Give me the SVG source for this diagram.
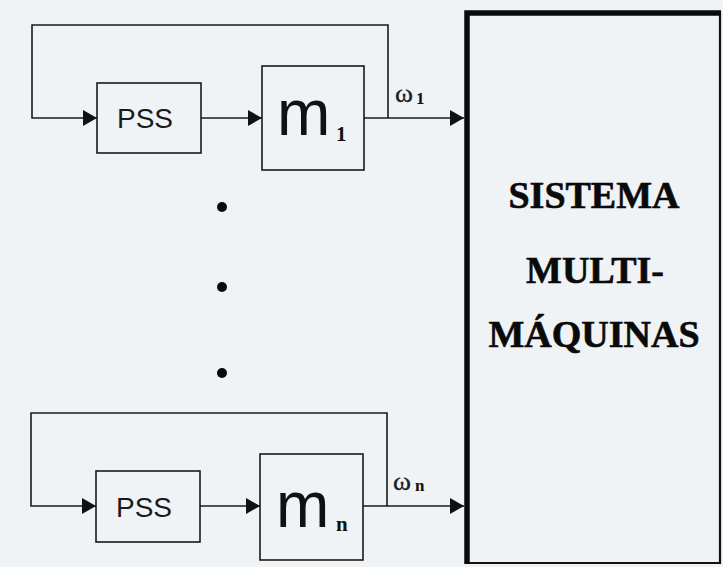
<svg xmlns="http://www.w3.org/2000/svg" width="723" height="567" viewBox="0 0 723 567">
  <defs>
    <marker id="arrow" viewBox="0 0 14 16" refX="14" refY="8" markerWidth="14" markerHeight="16" markerUnits="userSpaceOnUse" orient="auto">
      <path d="M0,0 L14,8 L0,16 Z" fill="#111"/>
    </marker>
  </defs>
  <style>
    .box { fill: none; stroke: #1a1a1a; stroke-width: 1.6; }
    .wire { fill: none; stroke: #1a1a1a; stroke-width: 1.6; }
    .pss { font-family: "Liberation Sans", Arial, sans-serif; font-size: 28px; fill: #1a1a1a; text-anchor: middle; }
    .m { font-family: "Liberation Sans", Arial, sans-serif; font-size: 64px; fill: #111; }
    .sub { font-family: "Liberation Serif", "Times New Roman", serif; font-weight: bold; font-size: 21px; fill: #111; }
    .omega { font-family: "Liberation Serif", "Times New Roman", serif; font-size: 25px; fill: #1a1a2a; stroke: #1a1a2a; stroke-width: 0.3; }
    .osub { font-family: "Liberation Serif", "Times New Roman", serif; font-weight: bold; font-size: 17px; fill: #111; }
    .big { font-family: "Liberation Serif", "Times New Roman", serif; font-weight: bold; font-size: 38px; fill: #0a0a0a; text-anchor: middle; stroke: #0a0a0a; stroke-width: 0.6; }
  </style>

  <rect x="0" y="0" width="723" height="567" fill="#eff3f5"/>

  <!-- connectors -->
  <g id="connectors">
    <!-- machine 1 loop -->
    <path class="wire" d="M388,118 V25 H32 V118 H97" marker-end="url(#arrow)"/>
    <path class="wire" d="M201,118 H262" marker-end="url(#arrow)"/>
    <path class="wire" d="M364,118 H464" marker-end="url(#arrow)"/>
    <!-- machine n loop -->
    <path class="wire" d="M387,506 V413 H31 V506 H96" marker-end="url(#arrow)"/>
    <path class="wire" d="M200,506 H260" marker-end="url(#arrow)"/>
    <path class="wire" d="M363,506 H464" marker-end="url(#arrow)"/>
  </g>

  <!-- signal labels -->
  <g id="label-w1">
    <text class="omega" x="395" y="102" textLength="18" lengthAdjust="spacingAndGlyphs">ω</text>
    <text class="osub" x="416" y="104">1</text>
  </g>
  <g id="label-wn">
    <text class="omega" x="393" y="490" textLength="18" lengthAdjust="spacingAndGlyphs">ω</text>
    <text class="osub" x="415" y="491">n</text>
  </g>

  <!-- machine 1 -->
  <g id="pss-1">
    <rect class="box" x="97" y="83" width="104" height="70"/>
    <text class="pss" x="145" y="128">PSS</text>
  </g>
  <g id="m-1">
    <rect class="box" x="262" y="66" width="102" height="104"/>
    <text class="m" x="277" y="135">m</text>
    <text class="sub" x="336" y="141">1</text>
  </g>

  <!-- ellipsis dots -->
  <g id="dots" fill="#0a0a0a">
    <circle cx="222" cy="207" r="5"/>
    <circle cx="222" cy="287" r="5"/>
    <circle cx="222" cy="373" r="5"/>
  </g>

  <!-- machine n -->
  <g id="pss-n">
    <rect class="box" x="96" y="471" width="104" height="71"/>
    <text class="pss" x="144" y="517">PSS</text>
  </g>
  <g id="m-n">
    <rect class="box" x="260" y="454" width="103" height="106"/>
    <text class="m" x="276" y="527">m</text>
    <text class="sub" x="336" y="531">n</text>
  </g>

  <!-- multi-machine system -->
  <g id="sistema">
    <path d="M720,12 V563 H467" fill="none" stroke="#111" stroke-width="2.2"/>
    <path d="M467,564 V13 H721" fill="none" stroke="#0a0a0a" stroke-width="5.5"/>
    <text class="big" x="594" y="208">SISTEMA</text>
    <text class="big" x="595" y="283">MULTI-</text>
    <text class="big" x="594" y="347">MÁQUINAS</text>
  </g>
</svg>
